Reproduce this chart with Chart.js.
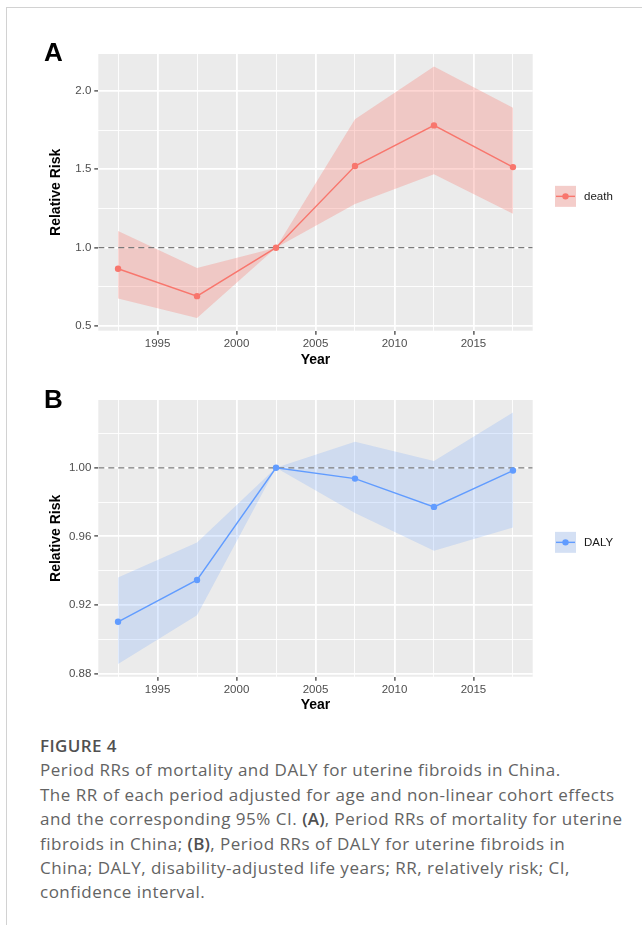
<!DOCTYPE html>
<html>
<head>
<meta charset="utf-8">
<script src="https://cdn.jsdelivr.net/npm/chart.js@4.4.1/dist/chart.umd.min.js"></script>
<style>
  html, body { margin: 0; padding: 0; background: #fff; width: 642px; height: 925px; overflow: hidden; }
  #frame { position: absolute; left: 6px; top: 7px; width: 700px; height: 1000px;
           border-left: 1.5px solid #d2d2d2; border-top: 1.5px solid #d2d2d2; }
  .panel { position: absolute; left: 0; }
  #caption { position: absolute; left: 40px; top: 734px; white-space: nowrap;
             font-family: "Open Sans", sans-serif; color: #636363; }
  #caption .fig { font-size: 17px; font-weight: 600; color: #505050; line-height: 24.4px; letter-spacing: 0.4px; }
  #caption .txt { font-size: 17px; font-weight: 400; line-height: 24.4px; letter-spacing: 0.5px; }
  #caption b { font-weight: 600; color: #505050; letter-spacing: 0.2px; }
</style>
</head>
<body>
<div id="frame"></div>
<canvas id="chartA" class="panel" width="642" height="345" style="top:30px;width:642px;height:345px"></canvas>
<canvas id="chartB" class="panel" width="642" height="345" style="top:380px;width:642px;height:345px"></canvas>
<div id="caption">
  <div class="fig">FIGURE 4</div>
  <div class="txt">Period RRs of mortality and DALY for uterine fibroids in China.<br>The RR of each period adjusted for age and non-linear cohort effects<br>and the corresponding 95% CI. <b>(A)</b>, Period RRs of mortality for uterine<br>fibroids in China; <b>(B)</b>, Period RRs of DALY for uterine fibroids in<br>China; DALY, disability-adjusted life years; RR, relatively risk; CI,<br>confidence interval.</div>
</div>
<script>
// Period mid-years and relative risks with 95% CI
const periods = [1992.5, 1997.5, 2002.5, 2007.5, 2012.5, 2017.5];

const deathRR    = [0.866, 0.691, 1.000, 1.521, 1.780, 1.514];
const deathLower = [0.676, 0.551, 1.000, 1.278, 1.468, 1.217];
const deathUpper = [1.106, 0.870, 1.000, 1.819, 2.155, 1.893];

const dalyRR    = [0.9102, 0.9346, 1.0000, 0.9937, 0.9772, 0.9984];
const dalyLower = [0.8855, 0.9140, 1.0000, 0.9737, 0.9516, 0.9652];
const dalyUpper = [0.9360, 0.9565, 1.0000, 1.0152, 1.0039, 1.0322];

// Axis breaks
const yearTicks  = [1995, 2000, 2005, 2010, 2015];
const deathTicks = [0.5, 1.0, 1.5, 2.0];
const dalyTicks  = [0.88, 0.92, 0.96, 1.00];

const refLevel = 1;

const FONT = '"Liberation Sans", Arial, sans-serif';

// ggplot-like continuous limits: data range expanded by 5% each side
function expandRange(lo, hi) {
  const pad = (hi - lo) * 0.05;
  return [lo - pad, hi + pad];
}
// minor breaks halfway between majors, kept inside the limits
function minorBreaks(majors, lo, hi) {
  const step = majors[1] - majors[0];
  const out = majors.map(m => m - step / 2);
  out.push(majors[majors.length - 1] + step / 2);
  return out.filter(v => v > lo && v < hi);
}
const near = (a, b) => Math.abs(a - b) < 1e-9;

// grey panel, legend key and panel letter
const panelDecor = {
  id: 'panelDecor',
  beforeDraw(chart, args, o) {
    const { ctx, chartArea: a } = chart;
    ctx.save();
    ctx.fillStyle = o.background;
    ctx.fillRect(a.left, a.top, a.right - a.left, a.bottom - a.top);
    ctx.restore();
  },
  afterDraw(chart, args, o) {
    const { ctx, chartArea: a } = chart;
    const series = chart.data.datasets[0];
    const band = chart.data.datasets[2];
    ctx.save();
    // panel letter
    ctx.font = 'bold ' + o.letterSize + 'px ' + FONT;
    ctx.fillStyle = '#000';
    ctx.textBaseline = 'alphabetic';
    ctx.textAlign = 'left';
    ctx.fillText(o.letter, o.letterX, o.letterY);
    // legend key
    const k = o.keySize;
    const kx = a.right + o.keyGap;
    const cy = (a.top + a.bottom) / 2 + o.keyShift;
    const ky = cy - k / 2;
    ctx.fillStyle = '#f2f2f2';
    ctx.fillRect(kx, ky, k, k);
    ctx.fillStyle = band.backgroundColor;
    ctx.fillRect(kx, ky, k, k);
    ctx.strokeStyle = series.borderColor;
    ctx.lineWidth = series.borderWidth;
    ctx.beginPath();
    ctx.moveTo(kx + 1, cy);
    ctx.lineTo(kx + k - 1, cy);
    ctx.stroke();
    ctx.fillStyle = series.borderColor;
    ctx.beginPath();
    ctx.arc(kx + k / 2, cy, series.pointRadius, 0, Math.PI * 2);
    ctx.fill();
    ctx.font = '11.5px ' + FONT;
    ctx.fillStyle = '#1a1a1a';
    ctx.textBaseline = 'middle';
    ctx.fillText(series.label, kx + k + 8, cy + 0.5);
    ctx.restore();
  }
};

function makePanel(id, cfg) {
  const [xMin, xMax] = expandRange(Math.min(...periods), Math.max(...periods));
  const [yMin, yMax] = expandRange(Math.min(...cfg.lower), Math.max(...cfg.upper));
  const xMinor = minorBreaks(yearTicks, xMin, xMax);
  const yMinor = minorBreaks(cfg.yTicks, yMin, yMax);
  const xAll = [...yearTicks, ...xMinor].sort((p, q) => p - q);
  const yAll = [...cfg.yTicks, ...yMinor].sort((p, q) => p - q);
  const pts = vals => periods.map((x, i) => ({ x, y: vals[i] }));

  const gridFor = majors => ({
    drawTicks: true,
    tickLength: 4,
    color: '#ffffff',
    lineWidth: c => (c.tick && majors.some(m => near(m, c.tick.value))) ? 1.8 : 0.9,
    tickColor: c => (c.tick && majors.some(m => near(m, c.tick.value))) ? '#333333' : 'rgba(0,0,0,0)',
    tickWidth: 1.2
  });

  return new Chart(document.getElementById(id), {
    type: 'line',
    data: {
      datasets: [
        {
          label: cfg.label, data: pts(cfg.rr), order: 0,
          borderColor: cfg.color, borderWidth: 1.4,
          pointRadius: 3.2, pointBackgroundColor: cfg.color, pointBorderWidth: 0,
          fill: false, tension: 0
        },
        {
          label: 'ref', data: [{ x: xMin, y: refLevel }, { x: xMax, y: refLevel }], order: 1,
          borderColor: '#7a7a7a', borderWidth: 1.3, borderDash: [6, 4],
          pointRadius: 0, fill: false
        },
        {
          label: 'upper', data: pts(cfg.upper), order: 2,
          borderWidth: 0, pointRadius: 0, fill: '+1',
          backgroundColor: cfg.band, tension: 0
        },
        {
          label: 'lower', data: pts(cfg.lower), order: 3,
          borderWidth: 0, pointRadius: 0, fill: false, tension: 0
        }
      ]
    },
    options: {
      responsive: false,
      animation: false,
      events: [],
      layout: { padding: { top: cfg.padTop, right: cfg.padRight, left: 0, bottom: 0 } },
      plugins: {
        legend: { display: false },
        tooltip: { enabled: false },
        panelDecor: {
          background: '#ebebeb', letter: cfg.letter, letterX: 44, letterY: cfg.letterY, letterSize: 26,
          keySize: 21, keyGap: 22.3, keyShift: 4
        }
      },
      scales: {
        x: {
          type: 'linear', min: xMin, max: xMax,
          afterBuildTicks: s => { s.ticks = xAll.map(v => ({ value: v })); },
          afterFit: s => { s.height = cfg.xHeight; },
          border: { display: false },
          grid: gridFor(yearTicks),
          ticks: {
            autoSkip: false, maxRotation: 0, padding: 2,
            color: '#4d4d4d', font: { family: FONT, size: 11.5 },
            callback: v => yearTicks.some(m => near(m, v)) ? String(v) : ''
          },
          title: {
            display: true, text: 'Year', color: '#000',
            font: { family: FONT, size: 14, weight: 'bold' },
            padding: { top: 0, bottom: cfg.xTitlePad }
          }
        },
        y: {
          type: 'linear', min: yMin, max: yMax,
          afterBuildTicks: s => { s.ticks = yAll.map(v => ({ value: v })); },
          afterFit: s => { s.width = 98.3; },
          border: { display: false },
          grid: gridFor(cfg.yTicks),
          ticks: {
            autoSkip: false, padding: 3,
            color: '#4d4d4d', font: { family: FONT, size: 11.5 },
            callback: v => cfg.yTicks.some(m => near(m, v)) ? v.toFixed(cfg.decimals) : ''
          },
          title: {
            display: true, text: 'Relative Risk', color: '#000',
            font: { family: FONT, size: 14, weight: 'bold' },
            padding: { top: 47.3, bottom: 0 }
          }
        }
      }
    },
    plugins: [panelDecor]
  });
}

makePanel('chartA', {
  label: 'death', rr: deathRR, lower: deathLower, upper: deathUpper, yTicks: deathTicks, decimals: 1,
  color: '#F8766D', band: 'rgba(248,118,109,0.3)',
  letter: 'A', letterY: 31, padTop: 24, padRight: 109.3, xHeight: 44.3, xTitlePad: 6.6
});
makePanel('chartB', {
  label: 'DALY', rr: dalyRR, lower: dalyLower, upper: dalyUpper, yTicks: dalyTicks, decimals: 2,
  color: '#619CFF', band: 'rgba(97,156,255,0.2)',
  letter: 'B', letterY: 28, padTop: 20, padRight: 109.3, xHeight: 48.3, xTitlePad: 11.6
});
</script>
</body>
</html>
